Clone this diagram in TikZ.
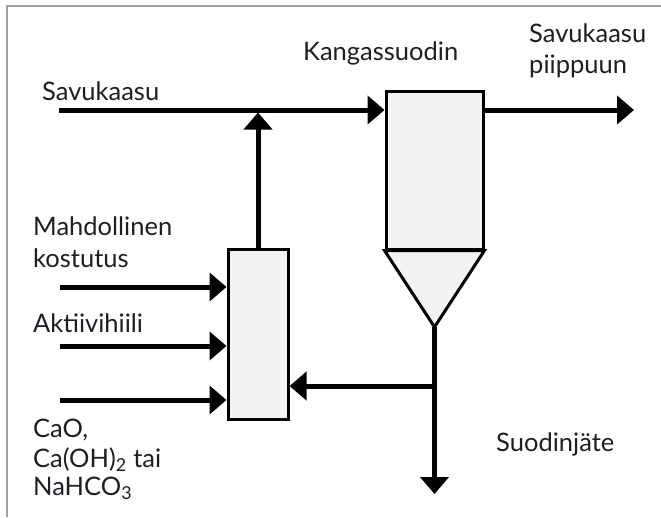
\documentclass[tikz,border=0pt]{standalone}
\usepackage{fontspec}
\setmainfont{Lato}
\usetikzlibrary{arrows.meta}
\definecolor{boxfill}{RGB}{244,243,241}
\definecolor{framegray}{RGB}{160,160,160}
\definecolor{txt}{RGB}{30,30,40}
\begin{document}
\begin{tikzpicture}[x=1pt,y=-1pt,
  flow/.style={line width=5pt},
  arr/.style={flow,-{Triangle[length=17pt,width=28pt]}},
  unit/.style={draw,line width=3pt,fill=boxfill,inner sep=0pt},
  lbl/.style={anchor=base west,inner sep=0pt,text=txt,font=\fontsize{25.5}{30}\selectfont}]
\useasboundingbox (0,0) rectangle (661,517);
\draw[framegray,line width=2pt] (661,6) -- (7,6) -- (7,517);

% filter
\node[unit,minimum width=97pt,minimum height=158pt] (filt) at (434.5,170) {};
\coordinate (apex) at (434.5,327);
\draw[line width=3pt,fill=boxfill,line join=miter] (filt.south west) -- (filt.south east) -- (apex) -- cycle;

% mixer
\node[unit,minimum width=60pt,minimum height=170pt] (mix) at (258,334) {};

% main gas line
\coordinate (gin) at (59,110);
\coordinate (gout) at (634,110);
\coordinate (junc) at (mix.north |- gin);
\draw[arr] (gin) -- (filt.west |- gin);
\draw[arr] (filt.east |- gin) -- (gout);
\draw[arr] (mix.north) -- ([yshift=-2.5pt]junc);

% inputs
\coordinate (i1) at (60,287);
\coordinate (i2) at (60,346);
\coordinate (i3) at (60,400);
\draw[arr] (i1) -- (mix.west |- i1);
\draw[arr] (i2) -- (mix.west |- i2);
\draw[arr] (i3) -- (mix.west |- i3);

% recirculation and waste
\coordinate (br) at (apex |- 0,386);
\coordinate (waste) at (434.5,494);
\draw[flow] (apex) -- (br);
\draw[arr] (br) -- (waste);
\draw[arr] ([xshift=2.5pt]br) -- (mix.east |- br);

% labels
\node[lbl] (l1) at (42,100) {Savukaasu};
\node[lbl] (l2) at (303,60) {Kangassuodin};
\node[lbl] (l3) at (529,42) {Savukaasu};
\node[lbl] (l4) at (529,73) {piippuun};
\node[lbl] (l5) at (33,235) {Mahdollinen};
\node[lbl] (l6) at (33,267) {kostutus};
\node[lbl] (l7) at (33,332) {Aktiivihiili};
\node[lbl] (l8) at (33,437) {CaO,};
\node[lbl] (l9) at (33,467) {Ca(OH)\textsubscript{2} tai};
\node[lbl] (l10) at (33,495) {NaHCO\textsubscript{3}};
\node[lbl] (l11) at (496,451) {Suodinjäte};
\end{tikzpicture}
\end{document}
